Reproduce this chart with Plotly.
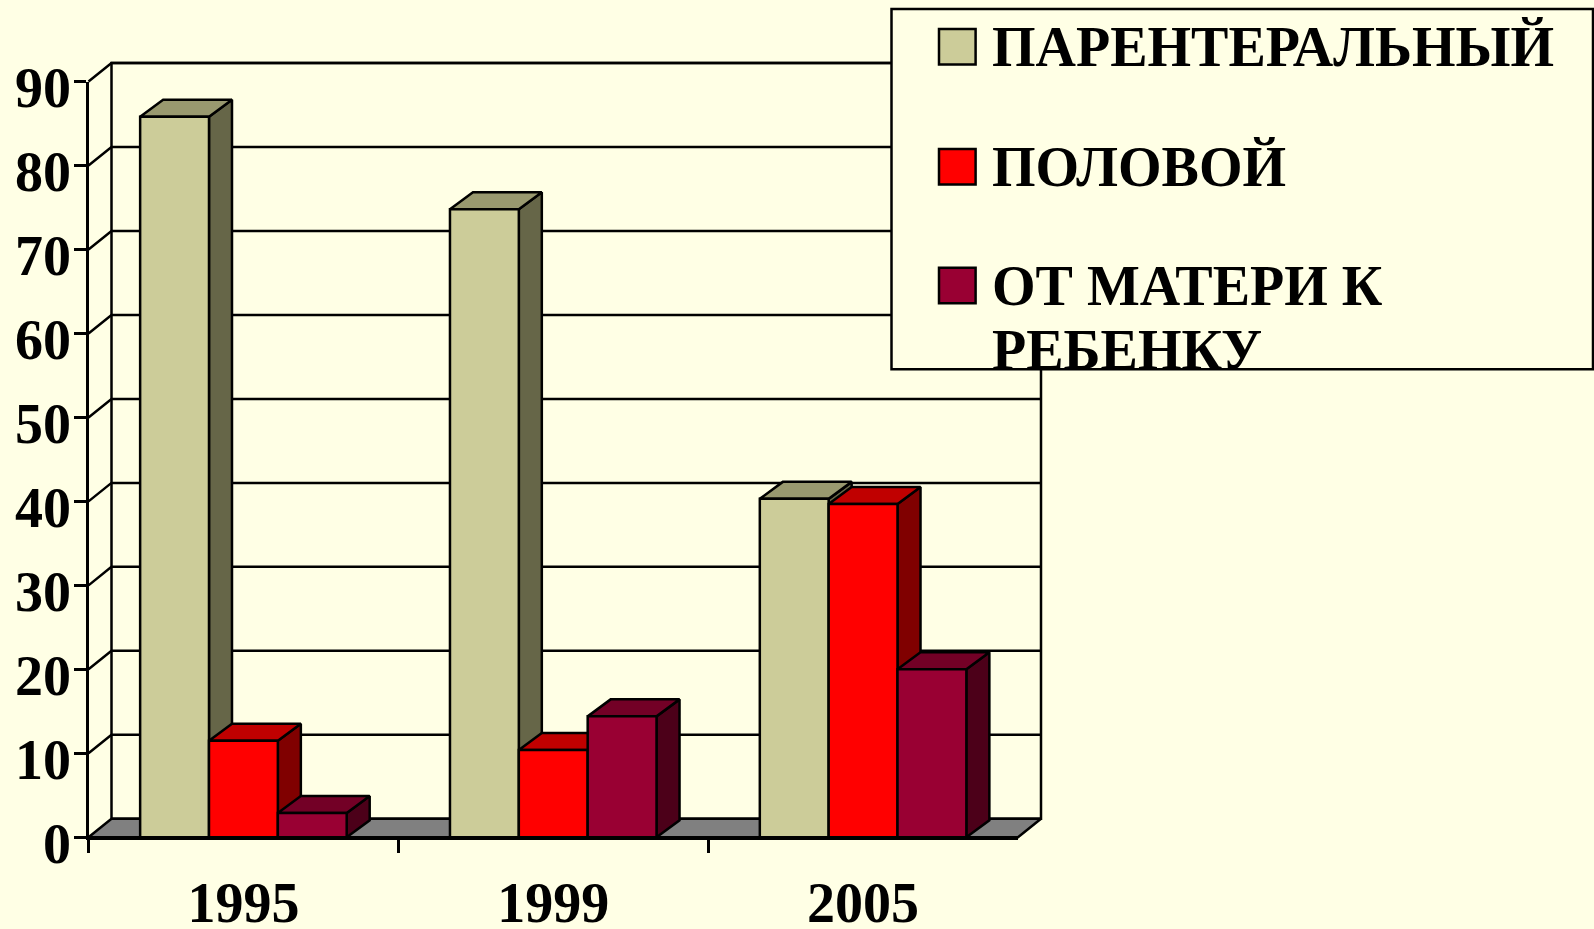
import plotly.graph_objects as go

# ---- data ----
categories = ["1995", "1999", "2005"]
series_names = ["ПАРЕНТЕРАЛЬНЫЙ", "ПОЛОВОЙ", "ОТ МАТЕРИ К РЕБЕНКУ"]
parenteral = [85.8, 74.8, 40.3]
sexual = [11.5, 10.4, 39.7]
maternal = [2.9, 14.4, 20.0]
y_ticks = [0, 10, 20, 30, 40, 50, 60, 70, 80, 90]

# ---- styles ----
BG = "#FFFFE5"
front_colors = ["#CCCC99", "#FF0000", "#990033"]
side_colors = ["#666648", "#800000", "#4C0019"]
top_colors = ["#99996F", "#C00000", "#730026"]
FLOOR = "#808080"
FONT = "Liberation Serif"
LW = 2.5

# ---- page / plot geometry (pixels) ----
W, H = 1594, 929
PX_LEFT, PX_RIGHT = 88.5, 1018.0
PX_ZERO, PX_NINETY = 837.3, 81.5
DEPTH_X_PX, DEPTH_Y_PX, BAR_DEPTH_Y_PX = 23.0, 18.5, 17.0
px_per_cat = (PX_RIGHT - PX_LEFT) / len(categories)
px_per_val = (PX_ZERO - PX_NINETY) / 90.0
dx = DEPTH_X_PX / px_per_cat
dy = DEPTH_Y_PX / px_per_val
bar_dy = BAR_DEPTH_Y_PX / px_per_val
bar_w = (1 - 1 / 3) / 3

fig = go.Figure()


def poly(xs, ys, fill, name):
    fig.add_trace(go.Scatter(
        x=xs, y=ys, mode="lines", fill="toself", fillcolor=fill,
        line=dict(color="black", width=LW), hoverinfo="skip",
        showlegend=False, name=name, xaxis="x", yaxis="y"))


x_l, x_r = -0.5, len(categories) - 0.5

# back wall, floor and gridlines: drawn on a hidden full-page axis pair with the same scale
poly([x_l + dx, x_r + dx, x_r + dx, x_l + dx, x_l + dx],
     [dy, dy, 90 + dy, 90 + dy, dy], BG, "wall")
poly([x_l, x_r, x_r + dx, x_l + dx, x_l], [0, 0, dy, dy, 0], FLOOR, "floor")
grid_x, grid_y = [], []
for t in y_ticks[1:]:
    grid_x += [x_l, x_l + dx, x_r + dx, None]
    grid_y += [t, t + dy, t + dy, None]
fig.add_trace(go.Scatter(x=grid_x, y=grid_y, mode="lines",
                         line=dict(color="black", width=LW), hoverinfo="skip",
                         showlegend=False, name="grid", xaxis="x", yaxis="y"))

# side and top faces, series by series
all_series = [parenteral, sexual, maternal]
for j, vals in enumerate(all_series):
    sx, sy, tx, ty = [], [], [], []
    for i, v in enumerate(vals):
        x0 = i - 1 / 3 + j * bar_w
        x1 = x0 + bar_w
        sx += [x1, x1 + dx, x1 + dx, x1, x1, None]
        sy += [0, bar_dy, v + bar_dy, v, 0, None]
        tx += [x0, x0 + dx, x1 + dx, x1, x0, None]
        ty += [v, v + bar_dy, v + bar_dy, v, v, None]
    poly(sx, sy, side_colors[j], series_names[j] + " side")
    poly(tx, ty, top_colors[j], series_names[j] + " top")

# front faces: real bars on the visible axes
for j, vals in enumerate(all_series):
    fig.add_trace(go.Bar(
        x=categories, y=vals, name=series_names[j], xaxis="x2", yaxis="y2",
        marker=dict(color=front_colors[j], line=dict(color="black", width=LW)),
        showlegend=False))

# ---- legend box (positions in page pixels) ----
def pxx(p): return p / W
def pxy(p): return 1 - p / H


shapes = [dict(type="rect", xref="paper", yref="paper",
               x0=pxx(891.5), x1=pxx(1593), y0=pxy(369.3), y1=pxy(9),
               fillcolor=BG, line=dict(color="black", width=LW), layer="above")]
swatch_tops = [29, 149, 267.7]
for j, top in enumerate(swatch_tops):
    shapes.append(dict(type="rect", xref="paper", yref="paper",
                       x0=pxx(939), x1=pxx(975.6), y0=pxy(top + 35.5), y1=pxy(top),
                       fillcolor=front_colors[j], line=dict(color="black", width=LW),
                       layer="above"))

legend_lines = [("ПАРЕНТЕРАЛЬНЫЙ", 65.7), ("ПОЛОВОЙ", 185.7),
                ("ОТ МАТЕРИ К", 305.0), ("РЕБЕНКУ", 369.3)]
annotations = [dict(text=t, xref="paper", yref="paper", x=pxx(991), y=pxy(b + 13),
                    xanchor="left", yanchor="bottom", showarrow=False, borderpad=0,
                    font=dict(family=FONT, size=56, color="black", weight=700))
               for t, b in legend_lines]

axis_font = dict(family=FONT, size=56, color="black", weight=700)
fig.update_layout(
    width=W, height=H, autosize=False, margin=dict(l=0, r=0, t=0, b=0),
    paper_bgcolor=BG, plot_bgcolor="rgba(0,0,0,0)", showlegend=False,
    barmode="group", bargap=1 / 3, bargroupgap=0,
    shapes=shapes, annotations=annotations,
    xaxis=dict(domain=[0, 1], visible=False, fixedrange=True, automargin=False,
               range=[x_l - PX_LEFT / px_per_cat, x_l + (W - PX_LEFT) / px_per_cat]),
    yaxis=dict(domain=[0, 1], visible=False, fixedrange=True, automargin=False,
               range=[(PX_ZERO - H) / px_per_val, PX_ZERO / px_per_val]),
    xaxis2=dict(domain=[PX_LEFT / W, PX_RIGHT / W], anchor="y2", type="category",
                categoryorder="array", categoryarray=categories, automargin=False,
                tickson="boundaries", ticks="outside", ticklen=13, tickwidth=LW,
                tickcolor="black", showline=True, linecolor="black", linewidth=LW,
                showgrid=False, zeroline=False, tickfont=axis_font, ticklabelstandoff=15,
                fixedrange=True),
    yaxis2=dict(domain=[1 - PX_ZERO / H, 1 - PX_NINETY / H], anchor="x2", range=[0, 90],
                tickvals=y_ticks, ticks="outside", ticklen=11.5, tickwidth=LW,
                tickcolor="black", showline=True, linecolor="black", linewidth=LW,
                showgrid=False, zeroline=False, tickfont=axis_font, ticklabelshift=6,
                ticklabelstandoff=-8, automargin=False, fixedrange=True),
)

fig.write_html("out.html", config=dict(displayModeBar=False),
               post_script="document.body.style.margin='0';document.body.style.background='%s';" % BG)
